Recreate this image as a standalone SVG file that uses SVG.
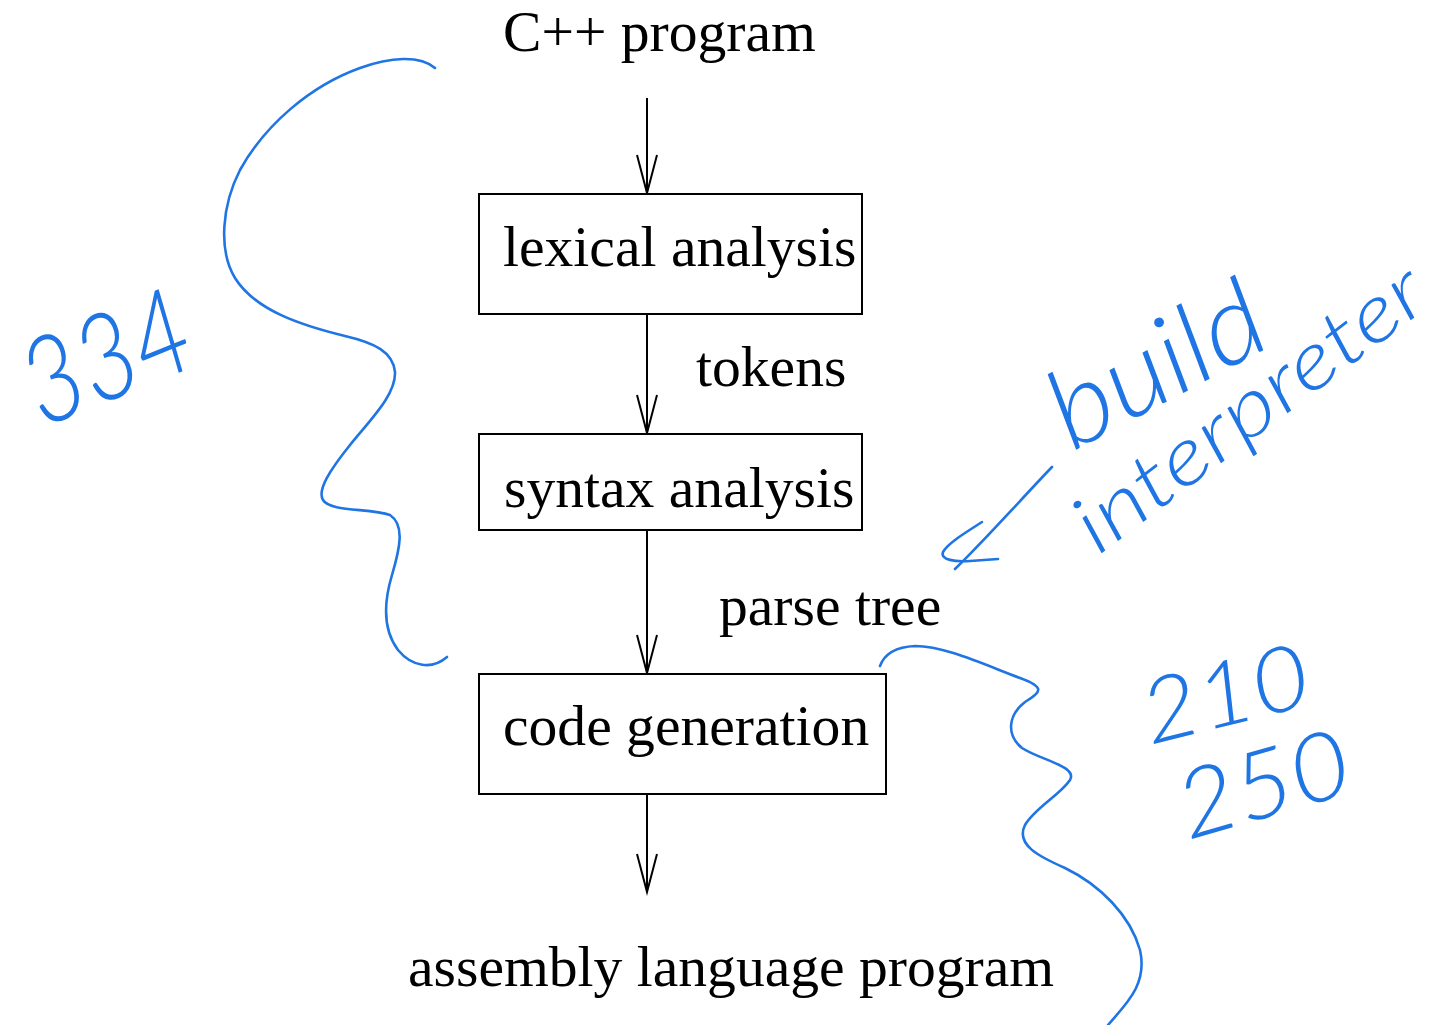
<svg xmlns="http://www.w3.org/2000/svg" width="1445" height="1025" viewBox="0 0 1445 1025">
<style>
.lbl{font-family:"Liberation Serif","Times New Roman",serif;font-size:57.6px;fill:#000}
.box{fill:#fff;stroke:#000;stroke-width:2}
.con{stroke:#000;stroke-width:2;fill:none}
.ink{fill:none;stroke:#1f75e3;stroke-width:2.6;stroke-linecap:round;stroke-linejoin:round}
.hw{font-family:"Lato","Open Sans",sans-serif;font-weight:300;font-style:italic;fill:#1f75e3}
</style>
<defs>
<marker id="ah" viewBox="-40 -12 44 24" markerWidth="44" markerHeight="24" refX="0" refY="0" orient="auto" markerUnits="userSpaceOnUse" overflow="visible">
<path d="M-38,-10 L0,0 L-38,10" fill="none" stroke="#000" stroke-width="2"/>
</marker>
</defs>
<rect width="1445" height="1025" fill="#fff"/>

<g id="connectors">
<line class="con" x1="647" y1="98" x2="647" y2="193" marker-end="url(#ah)"/>
<line class="con" x1="647" y1="314" x2="647" y2="433" marker-end="url(#ah)"/>
<line class="con" x1="647" y1="530" x2="647" y2="673" marker-end="url(#ah)"/>
<line class="con" x1="647" y1="794" x2="647" y2="892" marker-end="url(#ah)"/>
<text class="lbl" x="696" y="386">tokens</text>
<text class="lbl" x="719" y="625">parse tree</text>
</g>

<g id="input"><text class="lbl" x="503" y="51">C++ program</text></g>
<g id="lexical"><rect class="box" x="479" y="194" width="383" height="120"/><text class="lbl" x="503" y="266">lexical analysis</text></g>
<g id="syntax"><rect class="box" x="479" y="434" width="383" height="96"/><text class="lbl" x="504" y="507">syntax analysis</text></g>
<g id="codegen"><rect class="box" x="479" y="674" width="407" height="120"/><text class="lbl" x="503" y="745">code generation</text></g>
<g id="output"><text class="lbl" x="408" y="986">assembly language program</text></g>

<g id="annotations">
<path class="ink" d="M435,68 C420,55 390,57 360,68 C310,86 265,125 240,170 C222,205 218,250 235,278 C255,310 300,325 345,336 C375,343 393,352 395,372 C396,395 370,420 350,445 C330,470 317,490 323,500 C330,512 370,508 390,515 C405,525 400,548 392,575 C383,605 383,630 398,650 C412,667 432,670 447,657"/>
<path class="ink" d="M880,666 C884,655 895,647 915,646 C945,646 985,665 1020,678 C1045,687 1042,692 1025,702 C1008,715 1006,735 1022,748 C1040,760 1078,766 1070,780 C1060,795 1035,808 1025,825 C1015,845 1040,857 1065,868 C1100,885 1130,915 1140,950 C1148,985 1125,1005 1108,1025"/>
<path class="ink" d="M1052,467 C1025,495 985,540 955,569"/>
<path class="ink" d="M982,522 C965,533 948,543 943,552 C940,560 955,562 970,561 L998,559"/>
<text class="hw" font-size="120" transform="translate(42,428) rotate(-22)" textLength="172" lengthAdjust="spacingAndGlyphs">334</text>
<text class="hw" font-size="110" transform="translate(1072,452) rotate(-28)" textLength="230" lengthAdjust="spacingAndGlyphs">build</text>
<text class="hw" font-size="80" transform="translate(1098,556) rotate(-37)" textLength="420" lengthAdjust="spacingAndGlyphs">interpreter</text>
<text class="hw" font-size="90" transform="translate(1150,745) rotate(-14)" textLength="170" lengthAdjust="spacingAndGlyphs">210</text>
<text class="hw" font-size="95" transform="translate(1188,840) rotate(-16)" textLength="175" lengthAdjust="spacingAndGlyphs">250</text>
</g>
</svg>
